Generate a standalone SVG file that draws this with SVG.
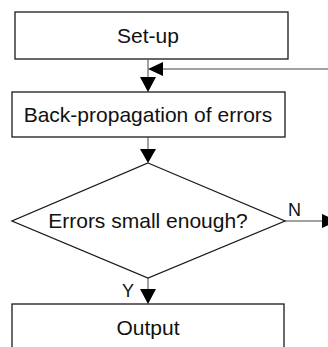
<svg xmlns="http://www.w3.org/2000/svg" width="328" height="347" viewBox="0 0 328 347">
<style>
.box{fill:#fff;stroke:#1a1a1a;stroke-width:1.3}
.lbl{font-family:"Liberation Sans",Arial,sans-serif;font-size:21px;fill:#111;text-anchor:middle}
.small{font-family:"Liberation Sans",Arial,sans-serif;font-size:18px;fill:#111}
.con{stroke:#444;stroke-width:1;fill:none}
.head{fill:#000}
</style>
<rect width="328" height="347" fill="#fff"/>
<g id="setup">
<rect class="box" x="15" y="12" width="273" height="47"/>
<text class="lbl" x="148" y="43">Set-up</text>
</g>
<g id="backprop">
<rect class="box" x="12" y="92" width="273" height="45"/>
<text class="lbl" x="148" y="122">Back-propagation of errors</text>
</g>
<g id="decision">
<polygon class="box" points="148,163 285,221 148,278 12,221"/>
<text class="lbl" x="148" y="228">Errors small enough?</text>
</g>
<g id="output">
<rect class="box" x="12" y="304" width="272" height="50"/>
<text class="lbl" x="148" y="335">Output</text>
</g>
<g id="connectors">
<line class="con" x1="148" y1="59" x2="148" y2="78"/>
<polygon class="head" points="140,77 156,77 148,92"/>
<line class="con" x1="162" y1="69" x2="328" y2="69"/>
<polygon class="head" points="148,69 163,62 163,76"/>
<line class="con" x1="148" y1="137" x2="148" y2="150"/>
<polygon class="head" points="140,149 156,149 148,163"/>
<line class="con" x1="285" y1="221" x2="323" y2="221"/>
<polygon class="head" points="322,214 322,228 337,221"/>
<text class="small" x="288" y="216">N</text>
<line class="con" x1="148" y1="278" x2="148" y2="290"/>
<polygon class="head" points="140,289 156,289 148,304"/>
<text class="small" x="122" y="297">Y</text>
</g>
</svg>
